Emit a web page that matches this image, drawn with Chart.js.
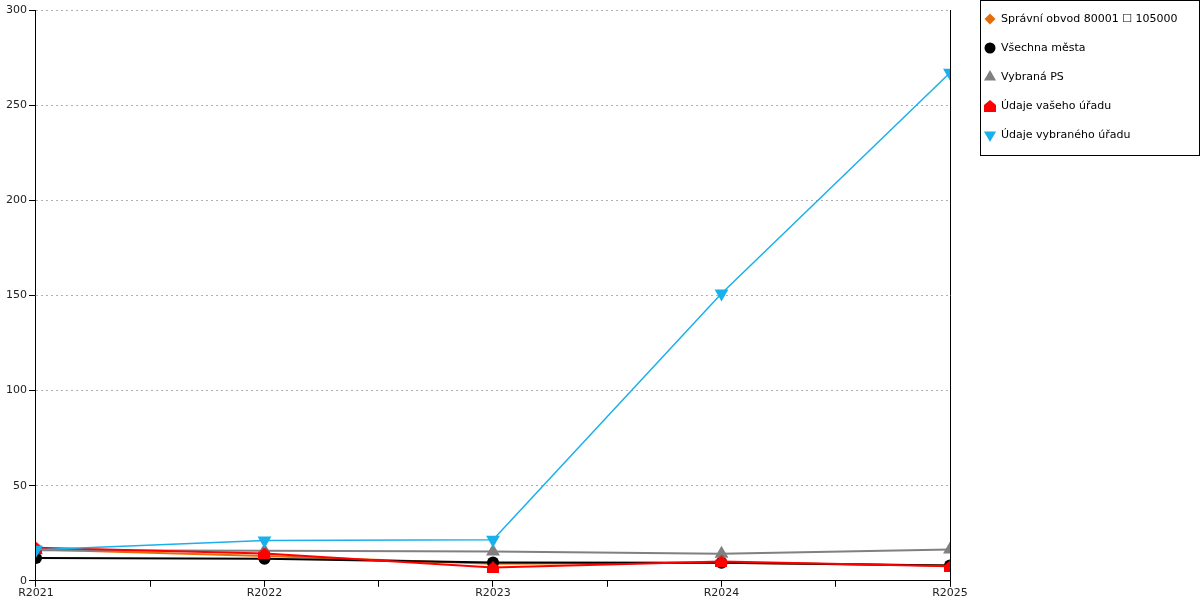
<!DOCTYPE html>
<html>
<head>
<meta charset="utf-8">
<script src="https://cdn.jsdelivr.net/npm/chart.js@4"></script>
<style>
  html, body { margin: 0; padding: 0; background: #fff; }
  #wrap { width: 1200px; height: 600px; }
</style>
</head>
<body>
<div id="wrap"><canvas id="myChart" width="1200" height="600"></canvas></div>
<script>
// data
var categories = ['R2021', 'R2022', 'R2023', 'R2024', 'R2025'];
var seriesNames = [
  'Správní obvod 80001 ☐ 105000',
  'Všechna města',
  'Vybraná PS',
  'Údaje vašeho úřadu',
  'Údaje vybraného úřadu'
];
var spravniObvod = [16.5, 13, 9, 9.5, 8];
var vsechnaMesta = [12, 11.6, 9.6, 9.5, 8];
var vybranaPS = [16, 15.8, 15.4, 14.2, 16.5];
var vasUrad = [17.4, 14.4, 7, 10.2, 7.6];
var vybranyUrad = [16.3, 21.2, 21.6, 151, 267];
var yTicks = [0, 50, 100, 150, 200, 250, 300];

var colors = ['#e46c0a', '#000000', '#808080', '#ff0000', '#1ab0ec'];
var lineWidths = [2, 2, 2, 2, 1.5];

// red "house" marker
function houseMarker(size, color) {
  var c = document.createElement('canvas');
  c.width = size; c.height = size;
  var g = c.getContext('2d');
  g.fillStyle = color;
  g.beginPath();
  g.moveTo(size / 2, 0);
  g.lineTo(size, size * 0.42);
  g.lineTo(size, size);
  g.lineTo(0, size);
  g.lineTo(0, size * 0.42);
  g.closePath();
  g.fill();
  return c;
}
var house = houseMarker(12, colors[3]);

var styles = [
  { pointStyle: 'rectRot', radius: 6, rotation: 0 },
  { pointStyle: 'circle', radius: 6, rotation: 0 },
  { pointStyle: 'triangle', radius: 8, rotation: 0 },
  { pointStyle: house, radius: 6, rotation: 0 },
  { pointStyle: 'triangle', radius: 8, rotation: 180 }
];
var allValues = [spravniObvod, vsechnaMesta, vybranaPS, vasUrad, vybranyUrad];
var drawOrder = [4, 3, 2, 1, 0];

var datasets = allValues.map(function (vals, i) {
  return {
    label: seriesNames[i],
    data: vals.map(function (v, j) { return { x: j, y: v }; }),
    borderColor: colors[i],
    backgroundColor: colors[i],
    borderWidth: lineWidths[i],
    pointStyle: styles[i].pointStyle,
    pointRadius: styles[i].radius,
    pointRotation: styles[i].rotation,
    pointBorderWidth: 0,
    tension: 0,
    order: drawOrder[i]
  };
});

var boxLegend = {
  id: 'boxLegend',
  afterDraw: function (chart) {
    var ctx = chart.ctx;
    var area = chart.chartArea;
    ctx.save();
    // right frame line of plot
    ctx.strokeStyle = '#000';
    ctx.lineWidth = 1;
    ctx.beginPath();
    ctx.moveTo(Math.round(area.right) + 0.5, area.top);
    ctx.lineTo(Math.round(area.right) + 0.5, area.bottom);
    ctx.stroke();
    // legend box
    ctx.strokeRect(980.5, 0.5, 219, 155);
    ctx.font = '11px "DejaVu Sans"';
    ctx.textBaseline = 'middle';
    ctx.textAlign = 'left';
    for (var i = 0; i < seriesNames.length; i++) {
      var y = 19 + 29 * i;
      ctx.fillStyle = colors[i];
      Chart.helpers.drawPoint(ctx, {
        pointStyle: styles[i].pointStyle,
        radius: i === 2 || i === 4 ? 7 : 5.5,
        rotation: styles[i].rotation,
        borderWidth: 0
      }, 990, y);
      ctx.fillStyle = '#000';
      ctx.fillText(seriesNames[i], 1001, y);
    }
    ctx.restore();
  }
};

Chart.defaults.font.family = '"DejaVu Sans", sans-serif';
Chart.defaults.font.size = 11;
Chart.defaults.color = '#222';

new Chart(document.getElementById('myChart'), {
  type: 'line',
  data: { datasets: datasets },
  options: {
    responsive: false,
    animation: false,
    layout: { padding: { top: 10, right: 250, left: 4, bottom: 0 } },
    plugins: {
      legend: { display: false },
      tooltip: { enabled: false }
    },
    scales: {
      x: {
        type: 'linear',
        min: 0,
        max: categories.length - 1,
        offset: false,
        ticks: {
          stepSize: 0.5,
          autoSkip: false,
          maxRotation: 0,
          padding: 0,
          callback: function (v) {
            return Number.isInteger(v) ? categories[v] : '';
          }
        },
        grid: {
          drawOnChartArea: false,
          drawTicks: true,
          tickLength: 6,
          tickColor: '#000'
        },
        border: { color: '#000', width: 1 }
      },
      y: {
        min: 0,
        max: 300,
        afterBuildTicks: function (axis) {
          axis.ticks = yTicks.map(function (v) { return { value: v }; });
        },
        ticks: { padding: 2 },
        grid: {
          color: '#b0b0b0',
          tickColor: '#000',
          tickLength: 7,
          tickBorderDash: [],
          tickWidth: 1
        },
        // in v4 border.dash dashes the grid lines
        border: { color: '#000', width: 1, dash: [2, 3] }
      }
    }
  },
  plugins: [boxLegend]
});
</script>
</body>
</html>
